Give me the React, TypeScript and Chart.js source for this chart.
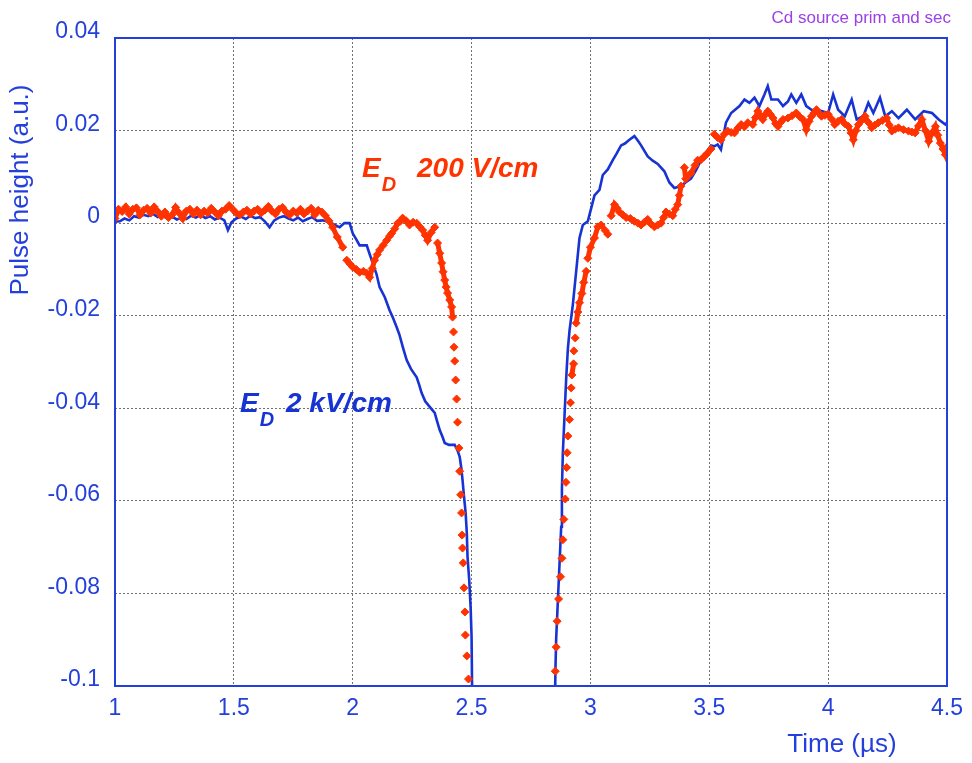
import React, { useEffect, useRef } from 'react';
import { Chart, registerables } from 'chart.js';

Chart.register(...registerables);

// ---------- data ----------
const blueTime = [
  1.000, 1.020, 1.040, 1.060, 1.080, 1.100, 1.120, 1.140, 1.160, 1.180,
  1.200, 1.220, 1.240, 1.260, 1.280, 1.300, 1.320, 1.340, 1.360, 1.380,
  1.400, 1.420, 1.440, 1.460, 1.475, 1.490, 1.510, 1.530, 1.550, 1.570,
  1.590, 1.610, 1.630, 1.650, 1.670, 1.690, 1.710, 1.730, 1.750, 1.770,
  1.790, 1.810, 1.830, 1.850, 1.874, 1.903, 1.925, 1.945, 1.965, 1.987,
  2.000, 2.015, 2.029, 2.059, 2.070, 2.084, 2.100, 2.113, 2.135, 2.155,
  2.168, 2.185, 2.197, 2.212, 2.227, 2.245, 2.269, 2.280, 2.290, 2.305,
  2.324, 2.345, 2.356, 2.366, 2.378, 2.387, 2.405, 2.429, 2.440, 2.450,
  2.457, 2.462, 2.468, 2.475, 2.480, 2.483, 2.490, 2.496, 2.500, 2.504,
  2.849, 2.853, 2.856, 2.863, 2.870, 2.877, 2.880, 2.884, 2.891, 2.898,
  2.905, 2.912, 2.926, 2.940, 2.954, 2.968, 2.989, 3.003, 3.017, 3.038,
  3.052, 3.073, 3.094, 3.110, 3.129, 3.145, 3.164, 3.185, 3.200, 3.213,
  3.241, 3.262, 3.283, 3.311, 3.332, 3.353, 3.381, 3.400, 3.423, 3.445,
  3.465, 3.490, 3.507, 3.521, 3.535, 3.549, 3.570, 3.592, 3.627, 3.648,
  3.669, 3.690, 3.711, 3.732, 3.746, 3.761, 3.789, 3.810, 3.831, 3.845,
  3.866, 3.887, 3.908, 3.930, 3.972, 4.000, 4.021, 4.042, 4.070, 4.099,
  4.120, 4.148, 4.169, 4.190, 4.218, 4.240, 4.268, 4.296, 4.331, 4.366,
  4.402, 4.437, 4.465, 4.493, 4.500,
];
const bluePulse = [
  0.0003, 0.0004, 0.0010, 0.0006, 0.0015, 0.0012, 0.0018, 0.0015, 0.0020, 0.0013,
  0.0016, 0.0010, 0.0014, 0.0008, 0.0012, 0.0009, 0.0016, 0.0012, 0.0018, 0.0011,
  0.0015, 0.0008, 0.0012, 0.0006, -0.0015, 0.0002, 0.0010, 0.0014, 0.0009, 0.0016,
  0.0011, 0.0013, 0.0004, -0.0009, 0.0006, 0.0012, 0.0015, 0.0010, 0.0006, 0.0012,
  0.0004, 0.0009, 0.0013, 0.0005, 0.0006, 0.0002, -0.0004, -0.0009, 0.0000, 0.0000,
  -0.0022, -0.0035, -0.0048, -0.0048, -0.0065, -0.0086, -0.0110, -0.0138, -0.0160, -0.0188,
  -0.0203, -0.0225, -0.0242, -0.0270, -0.0296, -0.0315, -0.0333, -0.0350, -0.0367, -0.0385,
  -0.0397, -0.0410, -0.0430, -0.0447, -0.0462, -0.0475, -0.0479, -0.0479, -0.0490, -0.0505,
  -0.0530, -0.0555, -0.0590, -0.0626, -0.0670, -0.0721, -0.0771, -0.0830, -0.0894, -0.1100,
  -0.1100, -0.0960, -0.0896, -0.0816, -0.0736, -0.0656, -0.0576, -0.0496, -0.0416, -0.0336,
  -0.0272, -0.0232, -0.0176, -0.0104, -0.0032, -0.0004, 0.0004, 0.0032, 0.0060, 0.0072,
  0.0104, 0.0116, 0.0136, 0.0150, 0.0168, 0.0172, 0.0180, 0.0188, 0.0178, 0.0168,
  0.0144, 0.0135, 0.0128, 0.0112, 0.0088, 0.0076, 0.0080, 0.0088, 0.0096, 0.0115,
  0.0136, 0.0155, 0.0168, 0.0166, 0.0170, 0.0159, 0.0217, 0.0238, 0.0253, 0.0267,
  0.0260, 0.0271, 0.0253, 0.0278, 0.0296, 0.0267, 0.0267, 0.0253, 0.0263, 0.0278,
  0.0260, 0.0278, 0.0253, 0.0245, 0.0242, 0.0238, 0.0278, 0.0245, 0.0231, 0.0267,
  0.0224, 0.0231, 0.0260, 0.0238, 0.0271, 0.0231, 0.0242, 0.0227, 0.0245, 0.0224,
  0.0242, 0.0238, 0.0224, 0.0213, 0.0217,
];

const redTime = [
  1.000, 1.015, 1.030, 1.045, 1.060, 1.075, 1.090, 1.105, 1.120, 1.135,
  1.150, 1.165, 1.180, 1.195, 1.210, 1.225, 1.240, 1.255, 1.270, 1.285,
  1.300, 1.315, 1.330, 1.345, 1.360, 1.375, 1.390, 1.405, 1.420, 1.435,
  1.450, 1.465, 1.480, 1.495, 1.510, 1.525, 1.540, 1.555, 1.570, 1.585,
  1.600, 1.615, 1.630, 1.645, 1.660, 1.675, 1.690, 1.705, 1.720, 1.735,
  1.750, 1.765, 1.780, 1.795, 1.810, 1.825, 1.840, 1.855, 1.870, 1.885,
  1.900, 1.916, 1.935, 1.958, 1.975, 1.988, 2.000, 2.015, 2.029, 2.045,
  2.059, 2.071, 2.082, 2.092, 2.103, 2.113, 2.128, 2.143, 2.155, 2.164,
  2.177, 2.189, 2.200, 2.210, 2.225, 2.239, 2.254, 2.269, 2.282, 2.294,
  2.305, 2.315, 2.330, 2.345, 2.357, 2.366, 2.374, 2.380, 2.387, 2.393,
  2.399, 2.408, 2.416, 2.420, 2.424, 2.426, 2.429, 2.433, 2.437, 2.441,
  2.447, 2.450, 2.454, 2.458, 2.460, 2.462, 2.465, 2.468, 2.472, 2.474,
  2.480, 2.487,
  2.852, 2.856, 2.860, 2.866, 2.874, 2.880, 2.884, 2.888, 2.894, 2.897,
  2.900, 2.902, 2.905, 2.912, 2.916, 2.919, 2.922, 2.929, 2.930, 2.936,
  2.940, 2.947, 2.954, 2.964, 2.972, 2.982, 2.989, 3.000, 3.017, 3.031,
  3.045, 3.062, 3.073, 3.087, 3.101, 3.112, 3.122, 3.136, 3.150, 3.168,
  3.185, 3.200, 3.213, 3.227, 3.241, 3.255, 3.269, 3.283, 3.297, 3.308,
  3.318, 3.332, 3.346, 3.357, 3.367, 3.374, 3.381, 3.395, 3.401, 3.423,
  3.440, 3.451, 3.465, 3.479, 3.490, 3.507, 3.521, 3.535, 3.549, 3.563,
  3.577, 3.592, 3.606, 3.620, 3.634, 3.648, 3.662, 3.683, 3.694, 3.704,
  3.715, 3.725, 3.736, 3.746, 3.757, 3.768, 3.779, 3.789, 3.800, 3.810,
  3.831, 3.848, 3.866, 3.880, 3.894, 3.908, 3.920, 3.930, 3.940, 3.951,
  3.962, 3.972, 3.986, 4.000, 4.014, 4.028, 4.042, 4.056, 4.070, 4.085,
  4.096, 4.106, 4.117, 4.127, 4.141, 4.155, 4.169, 4.183, 4.197, 4.211,
  4.228, 4.246, 4.257, 4.268, 4.282, 4.296, 4.317, 4.338, 4.352, 4.366,
  4.380, 4.394, 4.409, 4.423, 4.437, 4.451, 4.461, 4.472, 4.483, 4.493,
  4.500,
];
const redPulse = [
  0.0010, 0.0030, 0.0025, 0.0035, 0.0020, 0.0030, 0.0033, 0.0018, 0.0028, 0.0032,
  0.0022, 0.0035, 0.0025, 0.0015, 0.0024, 0.0012, 0.0018, 0.0034, 0.0022, 0.0010,
  0.0026, 0.0030, 0.0020, 0.0028, 0.0018, 0.0026, 0.0022, 0.0032, 0.0024, 0.0016,
  0.0026, 0.0030, 0.0038, 0.0030, 0.0022, 0.0018, 0.0024, 0.0028, 0.0020, 0.0026,
  0.0030, 0.0022, 0.0028, 0.0036, 0.0026, 0.0020, 0.0030, 0.0034, 0.0024, 0.0018,
  0.0026, 0.0022, 0.0030, 0.0020, 0.0026, 0.0032, 0.0018, 0.0028, 0.0024, 0.0016,
  0.0005, -0.0009, -0.0030, -0.0052, -0.0080, -0.0088, -0.0095, -0.0100, -0.0106, -0.0104,
  -0.0108, -0.0117, -0.0098, -0.0080, -0.0068, -0.0058, -0.0048, -0.0037, -0.0028, -0.0022,
  -0.0012, 0.0000, 0.0004, 0.0011, 0.0005, -0.0004, 0.0002, 0.0000, -0.0008, -0.0015,
  -0.0026, -0.0037, -0.0020, -0.0009, -0.0043, -0.0065, -0.0086, -0.0105, -0.0123, -0.0138,
  -0.0151, -0.0166, -0.0181, -0.0203, -0.0235, -0.0268, -0.0298, -0.0339, -0.0380, -0.0430,
  -0.0486, -0.0536, -0.0587, -0.0626, -0.0674, -0.0702, -0.0734, -0.0788, -0.0840, -0.0890,
  -0.0935, -0.0985,
  -0.0968, -0.0916, -0.0860, -0.0812, -0.0764, -0.0724, -0.0684, -0.0640, -0.0596, -0.0560,
  -0.0528, -0.0496, -0.0460, -0.0424, -0.0388, -0.0356, -0.0328, -0.0304, -0.0276, -0.0248,
  -0.0216, -0.0192, -0.0172, -0.0152, -0.0128, -0.0104, -0.0076, -0.0052, -0.0032, -0.0008,
  -0.0004, -0.0016, -0.0024, 0.0016, 0.0040, 0.0032, 0.0024, 0.0018, 0.0012, 0.0010,
  0.0004, 0.0000, -0.0004, 0.0002, 0.0008, -0.0002, -0.0008, -0.0004, 0.0000, 0.0012,
  0.0024, 0.0020, 0.0016, 0.0030, 0.0040, 0.0060, 0.0080, 0.0120, 0.0096, 0.0108,
  0.0125, 0.0136, 0.0137, 0.0144, 0.0150, 0.0160, 0.0192, 0.0185, 0.0180, 0.0192,
  0.0199, 0.0196, 0.0195, 0.0205, 0.0213, 0.0208, 0.0217, 0.0213, 0.0228, 0.0242,
  0.0232, 0.0224, 0.0235, 0.0242, 0.0235, 0.0227, 0.0215, 0.0209, 0.0218, 0.0224,
  0.0227, 0.0232, 0.0238, 0.0230, 0.0224, 0.0202, 0.0220, 0.0231, 0.0238, 0.0245,
  0.0237, 0.0231, 0.0233, 0.0235, 0.0225, 0.0213, 0.0220, 0.0224, 0.0215, 0.0209,
  0.0195, 0.0180, 0.0200, 0.0213, 0.0222, 0.0231, 0.0218, 0.0206, 0.0212, 0.0217,
  0.0222, 0.0227, 0.0212, 0.0199, 0.0203, 0.0206, 0.0202, 0.0199, 0.0197, 0.0195,
  0.0210, 0.0224, 0.0200, 0.0177, 0.0195, 0.0209, 0.0190, 0.0173, 0.0160, 0.0148,
  0.0165,
];

const xTickLabels = ['1', '1.5', '2', '2.5', '3', '3.5', '4', '4.5'];
const yTickLabels = ['-0.1', '-0.08', '-0.06', '-0.04', '-0.02', '0', '0.02', '0.04'];
const xTitle = 'Time (µs)';
const yTitle = 'Pulse height (a.u.)';
const noteText = 'Cd source prim and sec';
const redLabel = ['E', 'D', '200 V/cm'];
const blueLabel = ['E', 'D', '2 kV/cm'];

// ---------- styles ----------
const BLUE = '#1733d4';
const AXIS_BLUE = '#2440dc';
const RED = '#ff3300';
const PURPLE = '#9b3fe6';
const FONT = '"Liberation Sans", Arial, Helvetica, sans-serif';

const textPlugin = {
  id: 'textPlugin',
  afterDraw(chart: any) {
    const { ctx, chartArea: a } = chart;
    ctx.save();
    // frame
    ctx.strokeStyle = AXIS_BLUE;
    ctx.lineWidth = 2;
    ctx.strokeRect(a.left, a.top, a.right - a.left, a.bottom - a.top);

    // y title
    ctx.fillStyle = AXIS_BLUE;
    ctx.font = `26px ${FONT}`;
    ctx.textAlign = 'center';
    ctx.textBaseline = 'middle';
    ctx.save();
    ctx.translate(21, 190);
    ctx.rotate(-Math.PI / 2);
    ctx.fillText(yTitle, 0, 0);
    ctx.restore();

    // x title
    ctx.fillText(xTitle, 842, 745);

    // note
    ctx.fillStyle = PURPLE;
    ctx.font = `17px ${FONT}`;
    ctx.textAlign = 'right';
    ctx.textBaseline = 'alphabetic';
    ctx.fillText(noteText, 951, 23);

    // series labels
    const drawLabel = (parts: string[], color: string, x: number, y: number, restX: number) => {
      ctx.fillStyle = color;
      ctx.textAlign = 'left';
      ctx.textBaseline = 'alphabetic';
      ctx.font = `italic bold 28px ${FONT}`;
      ctx.fillText(parts[0], x, y);
      const w = ctx.measureText(parts[0]).width;
      ctx.font = `italic bold 20px ${FONT}`;
      ctx.fillText(parts[1], x + w + 1, y + 14);
      ctx.font = `italic bold 28px ${FONT}`;
      ctx.fillText(parts[2], restX, y);
    };
    drawLabel(redLabel, RED, 362, 177, 417);
    drawLabel(blueLabel, BLUE, 240, 412, 286);
    ctx.restore();
  },
};

export default function App() {
  const ref = useRef<HTMLCanvasElement | null>(null);
  useEffect(() => {
    if (!ref.current) return;
    const blueData = blueTime.map((t, i) => ({ x: t, y: bluePulse[i] }));
    const redData = redTime.map((t, i) => ({ x: t, y: redPulse[i] }));
    const chart = new Chart(ref.current, {
      type: 'scatter',
      data: {
        datasets: [
          {
            label: 'ED 200 V/cm',
            data: redData,
            showLine: true,
            borderColor: RED,
            borderWidth: 5,
            backgroundColor: RED,
            pointStyle: 'rectRot',
            pointRadius: 4,
            pointBorderWidth: 1,
            pointBorderColor: RED,
            pointBackgroundColor: RED,
            segment: {
              borderColor: (c: any) =>
                Math.hypot(c.p1.x - c.p0.x, c.p1.y - c.p0.y) > 12 ? 'rgba(0,0,0,0)' : RED,
            },
          } as any,
          {
            label: 'ED 2 kV/cm',
            data: blueData,
            showLine: true,
            borderColor: BLUE,
            borderWidth: 2.6,
            pointRadius: 0,
            tension: 0,
          } as any,
        ],
      },
      options: {
        animation: false,
        responsive: false,
        layout: { padding: { top: 38, right: 24, left: 0, bottom: 0 } },
        plugins: {
          legend: { display: false },
          tooltip: { enabled: false },
        },
        scales: {
          x: {
            type: 'linear',
            min: 1,
            max: 4.5,
            afterFit: (s: any) => { s.height = 77; },
            ticks: {
              stepSize: 0.5,
              color: AXIS_BLUE,
              font: { family: FONT, size: 23 },
              padding: 9,
              maxRotation: 0,
              callback: (_v: any, i: number) => xTickLabels[i],
            },
            grid: { color: '#707070', lineWidth: 1, drawTicks: false },
            border: { display: false, dash: [2, 2] },
          },
          y: {
            type: 'linear',
            min: -0.1,
            max: 0.04,
            afterFit: (s: any) => { s.width = 115; },
            ticks: {
              stepSize: 0.02,
              color: AXIS_BLUE,
              font: { family: FONT, size: 23 },
              padding: 15,
              labelOffset: -6,
              callback: (_v: any, i: number) => yTickLabels[i],
            },
            grid: { color: '#707070', lineWidth: 1, drawTicks: false },
            border: { display: false, dash: [2, 2] },
          },
        },
      },
      plugins: [textPlugin],
    } as any);
    return () => chart.destroy();
  }, []);
  return (
    <div style={{ position: 'absolute', left: 0, top: 0, width: 972, height: 763, background: '#fff' }}>
      <canvas ref={ref} width={972} height={763} />
    </div>
  );
}
